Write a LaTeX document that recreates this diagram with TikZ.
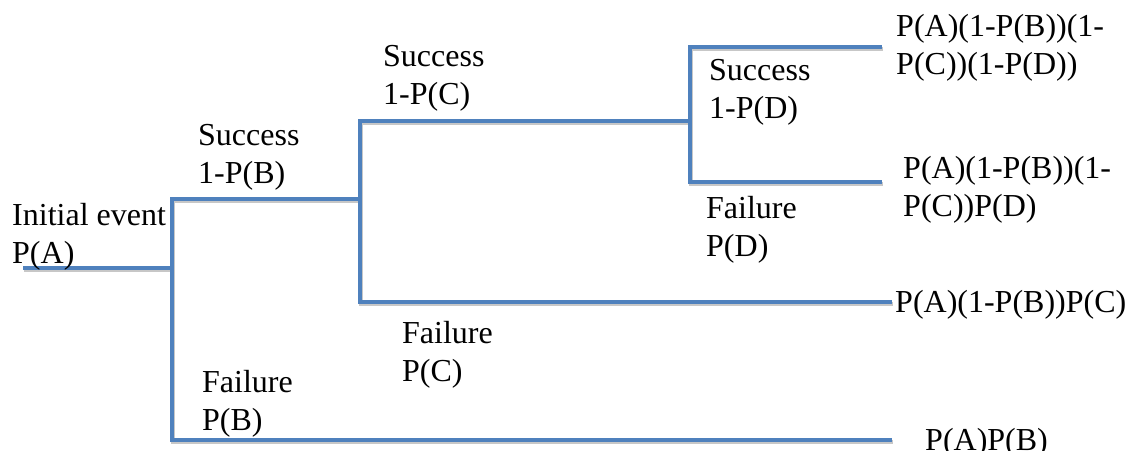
\documentclass[tikz,border=0pt]{standalone}
\usepackage{fontspec}
\setmainfont{Liberation Serif}
\definecolor{branchblue}{HTML}{4F81BD}
% two stacked lines of text, baseline on the first line
\newcommand{\twoline}[2]{\vtop{\hbox{#1}\hbox{#2}}}
% every branch of the tree, drawn with the given style
\newcommand{\treebranches}[1]{%
  \draw[#1] (start) -- (aJ);
  \draw[#1] (bsE) -- (bs) -- (bf) -- (bfE);
  \draw[#1] (csE) -- (cs) -- (cf) -- (cfE);
  \draw[#1] (dsE) -- (ds) -- (df) -- (dfE);
}
\begin{document}
\begin{tikzpicture}[x=1pt,y=-1pt,
  branchline/.style={draw=branchblue,line width=4.5pt,line join=miter,line cap=butt},
  shadowline/.style={draw=black!22,line width=4.5pt,line join=miter,line cap=butt},
  lbl/.style={anchor=base west,inner sep=0pt,font=\fontsize{32}{38.5}\selectfont}]
\useasboundingbox (0,0) rectangle (1133,450);
% initial event
\coordinate (start) at (23,268);
\coordinate (aJ) at (172,268);
% event B
\coordinate (bs) at (172,199);
\coordinate (bf) at (172,440);
\coordinate (bsE) at (360,199);
\coordinate (bfE) at (892,440);
% event C
\coordinate (cs) at (360,121);
\coordinate (cf) at (360,302);
\coordinate (csE) at (690,121);
\coordinate (cfE) at (892,302);
% event D
\coordinate (ds) at (690,47);
\coordinate (df) at (690,182);
\coordinate (dsE) at (882,47);
\coordinate (dfE) at (882,182);
% soft shadow under the branches
\begin{scope}[transform canvas={shift={(1pt,-2pt)}}]
  \treebranches{shadowline}
\end{scope}
\treebranches{branchline}
% branch labels
\node[lbl] (init) at (12,225) {\twoline{Initial event}{P(A)}};
\node[lbl] (bsucc) at (198,145) {\twoline{Success}{1-P(B)}};
\node[lbl] (bfail) at (202,392) {\twoline{Failure}{P(B)}};
\node[lbl] (csucc) at (383,66) {\twoline{Success}{1-P(C)}};
\node[lbl] (cfail) at (402,343) {\twoline{Failure}{P(C)}};
\node[lbl] (dsucc) at (709,80) {\twoline{Success}{1-P(D)}};
\node[lbl] (dfail) at (706,218) {\twoline{Failure}{P(D)}};
% outcome probabilities
\node[lbl] (o1) at (896,36) {\twoline{P(A)(1-P(B))(1-}{P(C))(1-P(D))}};
\node[lbl] (o2) at (903,178) {\twoline{P(A)(1-P(B))(1-}{P(C))P(D)}};
\node[lbl] (o3) at (895,312) {P(A)(1-P(B))P(C)};
\node[lbl] (o4) at (925,450) {P(A)P(B)};
\end{tikzpicture}
\end{document}
